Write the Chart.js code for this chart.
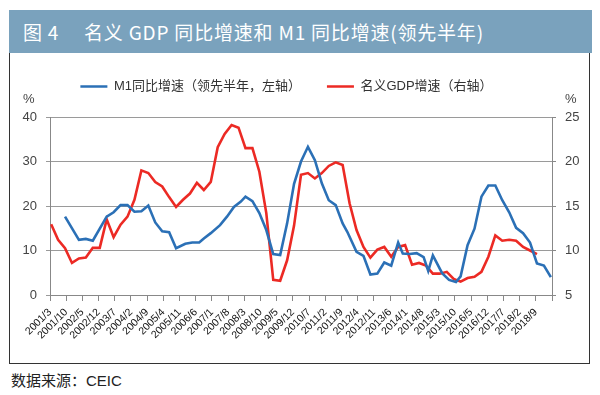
<!DOCTYPE html>
<html>
<head>
<meta charset="utf-8">
<script src="https://cdn.jsdelivr.net/npm/chart.js@4.4.0/dist/chart.umd.min.js"></script>
<style>
  body { margin: 0; background: #fff; width: 600px; height: 395px; position: relative; overflow: hidden; }
  #title { position: absolute; left: 9px; top: 10px; width: 583px; height: 43px; background: #7aa2bd;
    color: #fff; font: 19px "Liberation Sans Narrow", "Noto Sans CJK SC", sans-serif; white-space: pre;
    box-sizing: border-box; padding: 11px 0 0 14px; line-height: 22px; letter-spacing: 0.8px; }
  #box { position: absolute; left: 9px; top: 53px; width: 581px; height: 311px; box-sizing: border-box;
    border: 1.5px solid #333; border-top: none; }
  #wrap { position: absolute; left: 10px; top: 54px; width: 580px; height: 310px; }
  #src { position: absolute; left: 11px; top: 369px; font: 15px "Liberation Sans", "Noto Sans CJK SC", sans-serif; color: #222; }
</style>
</head>
<body>
<div id="title">图 4　 名义 GDP 同比增速和 M1 同比增速(领先半年)</div>
<div id="box"></div>
<div id="wrap"><canvas id="myChart"></canvas></div>
<div id="src">数据来源：CEIC</div>
<script>
// x tick labels, one every 7 months starting 2001/3
var xLabels = ["2001/3","2001/10","2002/5","2002/12","2003/7","2004/2","2004/9","2005/4","2005/11","2006/6",
  "2007/1","2007/8","2008/3","2008/10","2009/5","2009/12","2010/7","2011/2","2011/9","2012/4","2012/11",
  "2013/6","2014/1","2014/8","2015/3","2015/10","2016/5","2016/12","2017/7","2018/2","2018/9"];

// nominal GDP growth, quarterly from 2001/3 to 2018/9 (right axis)
var gdpValues = [12.95,11.2,10.25,8.6,9.1,9.2,10.3,10.3,13.5,11.5,12.9,13.8,15.7,19.0,18.7,17.7,17.2,16.0,
  14.9,15.7,16.4,17.6,16.8,17.7,21.6,23.1,24.1,23.8,21.5,21.5,18.85,14.2,6.7,6.6,8.9,12.8,18.5,18.7,18.1,
  18.7,19.5,19.9,19.6,15.3,12.3,10.4,9.2,10.1,10.4,9.3,10.4,10.6,8.4,8.6,8.3,7.4,7.4,7.6,6.8,6.5,6.9,7.05,
  7.6,9.3,11.7,11.1,11.2,11.1,10.4,10.0,9.6];

// M1 growth shifted 6 months ahead (left axis): month index since 2001/3 and value
var m1Months = [6,12,15,18,24,27,30,33,36,39,42,45,48,51,54,58,61,64,66,69,73,76,79,82,84,87,90,93,96,99,
  102,105,108,111,114,117,120,123,126,128,132,135,138,141,144,147,150,152,155,158,161,163,165,169,172,175,
  177,180,183,186,189,192,195,198,201,204,207,210,213,216];
var m1Values = [17.6,12.4,12.6,12.2,17.6,18.6,20.2,20.2,18.7,18.8,20.1,16.3,14.3,14.1,10.5,11.5,11.8,11.8,
  12.7,13.9,15.7,17.6,19.8,21.0,22.1,21.1,18.4,14.6,9.2,9.0,16.1,25.0,30.0,33.3,30.3,25.1,21.3,20.2,16.1,
  14.2,9.7,8.8,4.6,4.8,7.3,6.6,11.8,9.3,9.2,9.4,8.5,5.4,8.9,4.9,3.4,2.9,4.2,11.2,14.9,22.1,24.6,24.6,21.3,
  18.6,15.1,13.9,11.8,7.1,6.6,4.0];

var gdpData = gdpValues.map(function(v, i){ return {x: i*3 + 0.5, y: v}; });
var m1Data = m1Values.map(function(v, i){ return {x: m1Months[i] + 0.5, y: v}; });

var baseFont = '"Liberation Sans", "Noto Sans CJK SC", sans-serif';

// taller legend box, and legend nudged a bit left like the original
var legendGap = {
  id: 'legendGap',
  beforeInit: function(chart){
    var fit = chart.legend.fit;
    chart.legend.fit = function(){ fit.bind(chart.legend)(); this.height = 63; };
  },
  afterLayout: function(chart){
    chart.legend.left -= 13.5;
    chart.legend.right -= 13.5;
  }
};

var percentSigns = {
  id: 'percentSigns',
  afterDraw: function(chart){
    var ctx = chart.ctx, a = chart.chartArea;
    ctx.save();
    ctx.font = '13px ' + baseFont;
    ctx.fillStyle = '#444';
    ctx.textBaseline = 'middle';
    ctx.textAlign = 'left';
    ctx.fillText('%', a.left - 27, a.top - 18);
    ctx.fillText('%', a.right + 13, a.top - 18);
    ctx.restore();
  }
};

var ctx = document.getElementById("myChart");
var myChart = new Chart(ctx, {
  type: 'line',
  data: {
    datasets: [{
      label: 'M1同比增速（领先半年，左轴）',
      data: m1Data,
      yAxisID: 'y',
      borderColor: '#2b70b6',
      backgroundColor: '#2b70b6',
      borderWidth: 2.6,
      pointRadius: 0,
      tension: 0
    }, {
      label: '名义GDP增速（右轴）',
      data: gdpData,
      yAxisID: 'y1',
      borderColor: '#ec2a24',
      backgroundColor: '#ec2a24',
      borderWidth: 2.6,
      pointRadius: 0,
      tension: 0
    }]
  },
  options: {
    responsive: true,
    maintainAspectRatio: false,
    animation: false,
    layout: { padding: 0 },
    plugins: {
      tooltip: { enabled: false },
      legend: {
        display: true,
        position: 'top',
        labels: {
          usePointStyle: true,
          pointStyle: 'line',
          pointStyleWidth: 27,
          boxHeight: 13,
          padding: 26,
          color: '#333',
          font: { size: 13, family: baseFont }
        }
      }
    },
    scales: {
      x: {
        type: 'linear',
        min: 0,
        max: 217,
        afterFit: function(s){ s.height = 69; },
        grid: { drawOnChartArea: false, drawTicks: true, tickLength: 6, color: '#888' },
        border: { color: '#888' },
        ticks: {
          stepSize: 7,
          autoSkip: false,
          maxRotation: 45,
          minRotation: 45,
          padding: 5,
          color: '#111',
          font: { size: 10.5, family: baseFont },
          callback: function(v){ return xLabels[v/7] || ''; }
        }
      },
      y: {
        position: 'left',
        min: 0,
        max: 40,
        afterFit: function(s){ s.width = 40; },
        grid: { color: '#9a9a9a', tickLength: 4 },
        border: { color: '#888' },
        ticks: { stepSize: 10, padding: 9, color: '#444', font: { size: 13, family: baseFont } }
      },
      y1: {
        position: 'right',
        min: 5,
        max: 25,
        afterFit: function(s){ s.width = 38; },
        grid: { drawOnChartArea: false, color: '#888', tickLength: 4 },
        border: { color: '#888' },
        ticks: { stepSize: 5, padding: 9, color: '#444', font: { size: 13, family: baseFont } }
      }
    }
  },
  plugins: [legendGap, percentSigns]
});
</script>
</body>
</html>
